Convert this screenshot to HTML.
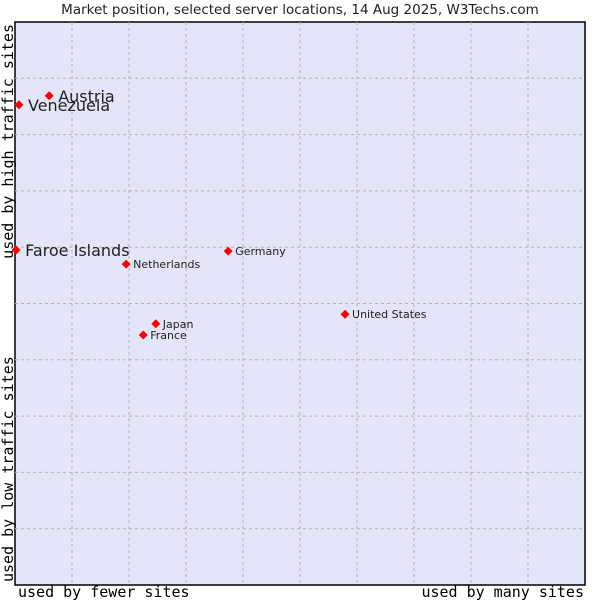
<!DOCTYPE html>
<html><head><meta charset="utf-8"><style>
body{margin:0;background:#fff;}
svg text{font-family:"DejaVu Sans","Liberation Sans",sans-serif;}
.mono{font-family:"DejaVu Sans Mono",monospace !important;}
</style></head><body>
<svg width="600" height="600">
<text x="300" y="14" text-anchor="middle" font-size="13.5" fill="#222">Market position, selected server locations, 14 Aug 2025, W3Techs.com</text>
<rect x="15" y="22" width="570" height="563" fill="#e3e5f8" stroke="#000" stroke-width="1.5"/>
<g id="grid"></g>
<g id="marks"></g>
<text class="mono" x="18" y="597" font-size="15">used by fewer sites</text>
<text class="mono" x="584" y="597" text-anchor="end" font-size="15">used by many sites</text>
<text class="mono" transform="translate(13,582) rotate(-90)" font-size="15">used by low traffic sites</text>
<text class="mono" transform="translate(13,24) rotate(-90)" text-anchor="end" font-size="15">used by high traffic sites</text>
</svg>
<script>
const names=["Austria","Venezuela","Faroe Islands","Netherlands","Germany","United States","Japan","France"];
const xs=[6.0,0.7,0.2,19.5,37.4,57.9,24.7,22.5];
const ys=[86.9,85.3,59.5,57.0,59.3,48.1,46.4,44.4];
const big=[1,1,1,0,0,0,0,0];
const X0=15,X1=585,Y0=585,Y1=22;
const sx=v=>X0+v/100*(X1-X0), sy=v=>Y0-v/100*(Y0-Y1);
const NS="http://www.w3.org/2000/svg";
const g=document.getElementById('grid');
for(let i=1;i<10;i++){
 let l=document.createElementNS(NS,'line');
 l.setAttribute('x1',sx(i*10));l.setAttribute('x2',sx(i*10));l.setAttribute('y1',Y1);l.setAttribute('y2',Y0);
 l.setAttribute('stroke','#b4b4b4');l.setAttribute('stroke-dasharray','3,3');
 
 
 g.appendChild(l);
 let h=document.createElementNS(NS,'line');
 h.setAttribute('y1',sy(i*10));h.setAttribute('y2',sy(i*10));h.setAttribute('x1',X0);h.setAttribute('x2',X1);
 h.setAttribute('stroke','#b4b4b4');h.setAttribute('stroke-dasharray','3,3');
 
 
 g.appendChild(h);
}
const m=document.getElementById('marks');
names.forEach((n,i)=>{
 const x=sx(xs[i]),y=sy(ys[i]);
 const p=document.createElementNS(NS,'polygon');
 p.setAttribute('points',`${x},${y-4.5} ${x+4.5},${y} ${x},${y+4.5} ${x-4.5},${y}`);
 p.setAttribute('fill','#f00');
 
 
 m.appendChild(p);
 const t=document.createElementNS(NS,'text');
 t.setAttribute('x',x+(big[i]?9:7));t.setAttribute('y',y+(big[i]?6:4));
 t.setAttribute('font-size',big[i]?16:11);t.setAttribute('fill','#222');
 t.textContent=n;
 
 
 m.appendChild(t);
});
</script>
</body></html>
